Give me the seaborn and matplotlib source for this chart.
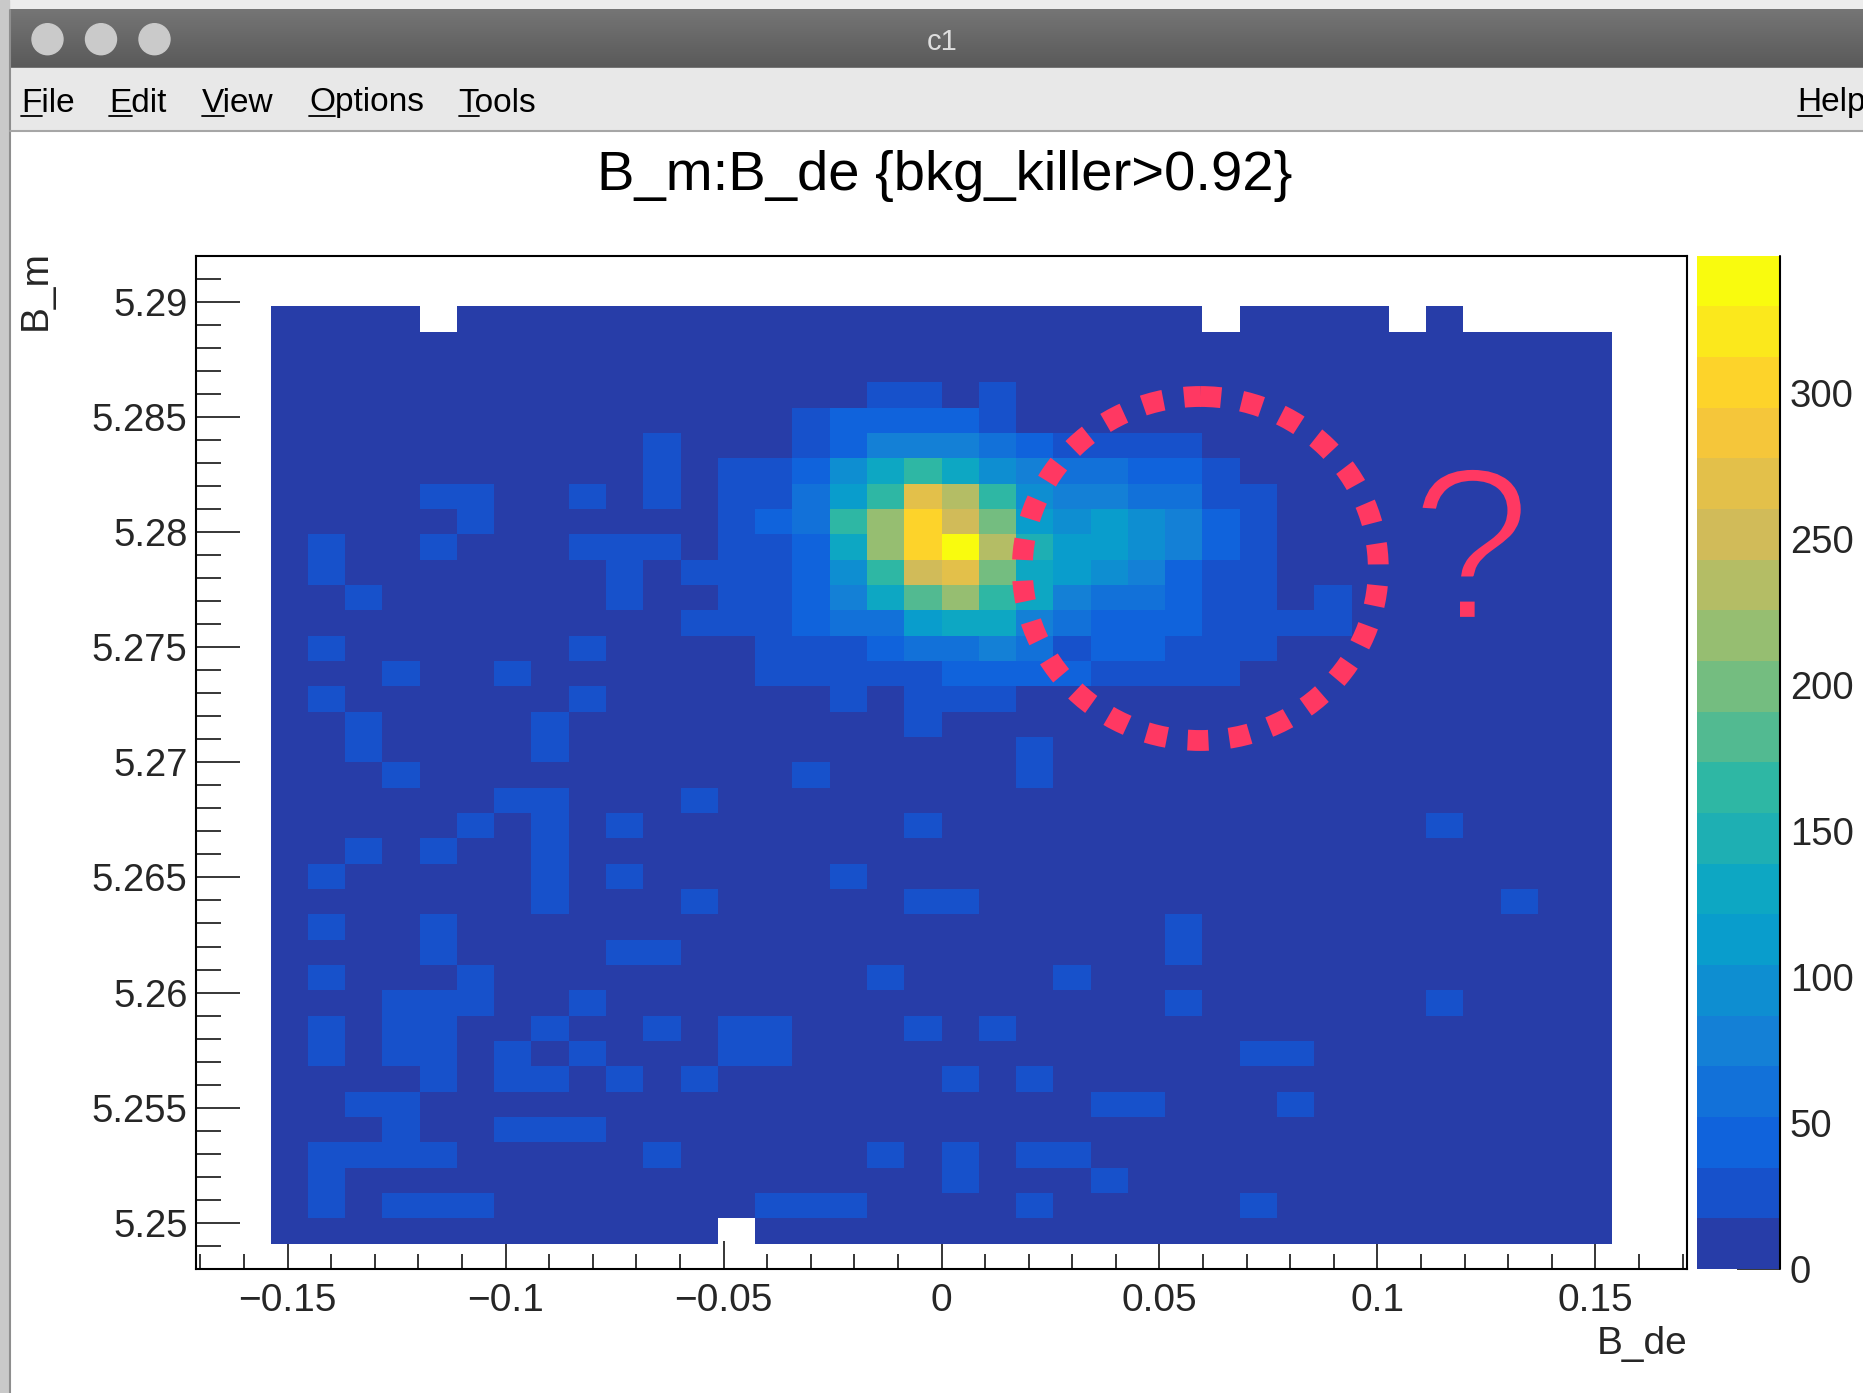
import numpy as np
import pandas as pd
import matplotlib
matplotlib.use("Agg")
import matplotlib.pyplot as plt
import matplotlib.patheffects as pe
from matplotlib.colors import LinearSegmentedColormap, ListedColormap
from matplotlib.patches import Rectangle, Circle, Ellipse
import seaborn as sns

# binning that ROOT picked for B_de (x) and B_m (y): 40 x 40 bins
x_lo, x_hi, n_xbins = -0.171, 0.171, 40
y_lo, y_hi, n_ybins = 5.248, 5.292, 40
first_col, first_row = 2, 2   # filled bins start 2 bins in from the left / top

# bin contents, one character per bin, top row = highest B_m
# ' ' empty bin, '1'..'9' and 'a'..'k' = colour band 1..20 of the palette
grid_rows = [
    "1111 11111111111111111111 1111 1    ",
    "111111111111111111111111111111111111",
    "111111111111111111111111111111111111",
    "1111111111111111" "2212" "1111111111111111",
    "11111111111111" "233332" "1111111111111111",
    "1111111111" "2111" "2355543" "2222" "11111111111",
    "1111111111" "2122368a86544332" "1111111111",
    "1111" "221121212247agea6554422" "111111111",
    "11111" "2" "111111" "234adifc767653" "2" "111111111",
    "1" "2" "11" "2" "111" "222" "1" "2238dike9776532" "111111111",
    "1" "2" "1111111" "2" "1" "22236afgc8765322" "111111111",
    "11" "2" "111111" "2" "11" "22358bda8544322" "1" "2" "1111111",
    "11111111111" "222344788543332222" "1111111",
    "1" "2" "111111" "2" "1111" "22234454233222" "111111111",
    "111" "2" "11" "2" "111111" "22222" "3333" "2222" "1111111111",
    "1" "2" "111111" "2" "111111" "2" "1" "222" "1111111111111111",
    "11" "2" "1111" "2" "111111111" "2" "111111111111111111",
    "11" "2" "1111" "2" "111111111111" "2" "111111111111111",
    "111" "2" "1111111111" "2" "11111" "2" "111111111111111",
    "111111" "22" "111" "2" "111111111111111111111111",
    "11111" "2" "1" "2" "1" "2" "1111111" "2" "1111111111111" "2" "1111",
    "11" "2" "1" "2" "11" "2" "1111111111111111111111111111",
    "1" "2" "11111" "2" "1" "2" "11111" "2" "11111111111111111111",
    "1111111" "2" "111" "2" "11111" "22" "11111111111111" "2" "11",
    "1" "2" "11" "2" "1111111111111111111" "2" "11111111111",
    "1111" "2" "1111" "22" "1111111111111" "2" "11111111111",
    "1" "2" "111" "2" "1111111111" "2" "1111" "2" "11111111111111",
    "111" "222" "11" "2" "111111111111111" "2" "111111" "2" "1111",
    "1" "2" "1" "22" "11" "2" "11" "2" "1" "22" "111" "2" "1" "2" "1111111111111111",
    "1" "2" "1" "22" "1" "2" "1" "2" "111" "22" "111111111111" "22" "11111111",
    "1111" "2" "1" "22" "1" "2" "1" "2" "111111" "2" "1" "2" "111111111111111",
    "11" "22" "111111111111111111" "22" "111" "2" "11111111",
    "111" "2" "11" "222" "111111111111111111111111111",
    "1" "2222" "11111" "2" "11111" "2" "1" "2" "1" "22" "11111111111111",
    "1" "2" "1111111111111111" "2" "111" "2" "1111111111111",
    "1" "2" "1" "222" "1111111" "222" "1111" "2" "11111" "2" "111111111",
    "111111111111" " " "11111111111111111111111",
]

# count taken for each colour band (20 equal bands from 0 up to the peak, 347)
band_counts = {" ": 0, "1": 8, "2": 26, "3": 43, "4": 61, "5": 78, "6": 95,
               "7": 113, "8": 130, "9": 147, "a": 165, "b": 182, "c": 200,
               "d": 217, "e": 234, "f": 252, "g": 269, "h": 286, "i": 304,
               "j": 321, "k": 347}
z_max = 347

x_major = [-0.15, -0.1, -0.05, 0.0, 0.05, 0.1, 0.15]
x_labels = ["\u22120.15", "\u22120.1", "\u22120.05", "0", "0.05", "0.1", "0.15"]
y_major = [5.25, 5.255, 5.26, 5.265, 5.27, 5.275, 5.28, 5.285, 5.29]
y_labels = ["5.25", "5.255", "5.26", "5.265", "5.27", "5.275", "5.28", "5.285", "5.29"]
z_ticks = [0, 50, 100, 150, 200, 250, 300]
menu_items = ["File", "Edit", "View", "Options", "Tools"]

for r in grid_rows:
    assert len(r) == 36, r

counts = np.zeros((n_ybins, n_xbins))
for i, row in enumerate(grid_rows):
    for j, ch in enumerate(row):
        counts[first_row + i, first_col + j] = band_counts[ch]
df = pd.DataFrame(counts)

# ROOT kBird palette, 20 contour bands
bird_stops = [0.0, 0.125, 0.25, 0.375, 0.5, 0.625, 0.75, 0.875, 1.0]
bird_r = [0.2082, 0.0592, 0.0780, 0.0232, 0.1802, 0.5301, 0.8186, 0.9956, 0.9764]
bird_g = [0.1664, 0.3599, 0.5041, 0.6419, 0.7178, 0.7492, 0.7328, 0.7862, 0.9832]
bird_b = [0.5293, 0.8684, 0.8385, 0.7914, 0.6425, 0.4662, 0.3499, 0.1968, 0.0539]
bird = LinearSegmentedColormap.from_list(
    "bird", list(zip(bird_stops, zip(bird_r, bird_g, bird_b))), N=255)
cmap = ListedColormap([bird(int((j + 0.99) * 255 / 20)) for j in range(20)])

sns.set_style("white")
plt.rcParams["font.family"] = ["Liberation Sans", "DejaVu Sans"]

W, H = 1863, 1393
fig = plt.figure(figsize=(W / 100, H / 100), dpi=100)
fig.patch.set_facecolor("white")

ax_l, ax_r, ax_t, ax_b = 196, 1687, 255.5, 1269
ax = fig.add_axes([ax_l / W, 1 - ax_b / H, (ax_r - ax_l) / W, (ax_b - ax_t) / H])
cax = fig.add_axes([1697 / W, 1 - ax_b / H, (1780 - 1697) / W, (ax_b - ax_t) / H])

sns.heatmap(df, ax=ax, cbar_ax=cax, cmap=cmap, vmin=0, vmax=z_max,
            mask=(counts == 0), xticklabels=False, yticklabels=False)

# numeric axes on top of the bin index grid
dx = (x_hi - x_lo) / n_xbins
dy = (y_hi - y_lo) / n_ybins
to_x = lambda v: (np.asarray(v) - x_lo) / dx
to_y = lambda v: (y_hi - np.asarray(v)) / dy

ax.set_xticks(to_x(x_major))
ax.set_xticklabels(x_labels)
ax.set_xticks(to_x(np.round(np.arange(-0.17, 0.1705, 0.01), 3)), minor=True)
ax.set_yticks(to_y(y_major))
ax.set_yticklabels(y_labels, rotation=0)
ax.set_yticks(to_y(np.round(np.arange(5.249, 5.2921, 0.001), 4)), minor=True)
ax.tick_params(axis="x", which="major", direction="in", length=20, width=1.3,
               bottom=True, top=False, labelsize=28, pad=10)
ax.tick_params(axis="x", which="minor", direction="in", length=11, width=1.3,
               bottom=True, top=False)
ax.tick_params(axis="y", which="major", direction="in", length=32, width=1.3,
               left=True, right=False, labelsize=27.5, pad=6)
ax.tick_params(axis="y", which="minor", direction="in", length=18, width=1.3,
               left=True, right=False)
for s in ax.spines.values():
    s.set_visible(True)
    s.set_color("black")
    s.set_linewidth(1.5)

cbar = ax.collections[0].colorbar
cbar.outline.set_visible(False)
cbar.set_ticks(z_ticks)
cbar.set_ticklabels([str(t) for t in z_ticks])
cbar.minorticks_off()
cax.tick_params(axis="y", direction="in", length=31, width=1.3, labelsize=27.5,
                pad=7, right=True, left=False)
cax.plot([1, 1], [0, 1], transform=cax.transAxes, color="black", lw=1.5,
         clip_on=False)

# overlay in pixel units: window chrome, titles, annotation
ov = fig.add_axes([0, 0, 1, 1], zorder=10)
ov.set_facecolor("none")
ov.axis("off")

ov.add_patch(Rectangle((0, 0), W, 10, color="#ededed", zorder=0))
ov.add_patch(Rectangle((0, 0), 9, H, color="#c9c9c9", zorder=0))
ov.plot([10, 10], [9.5, H], color="#8e8e8e", lw=1.5)
grad = np.linspace(0.46, 0.35, 64).reshape(-1, 1)
ov.imshow(np.dstack([grad, grad, grad]), extent=(10, W, 67.7, 9.5),
          aspect="auto", interpolation="bilinear", zorder=1)
for cx in [47.5, 101, 154.5]:
    ov.add_patch(Circle((cx, 39.2), 15.5, color="#cacaca", zorder=2))
ov.text(942, 41.6, "c1", ha="center", va="center", fontsize=21, color="#dedede",
        zorder=3)

ov.add_patch(Rectangle((10, 67.7), W, 62.5, color="#e8e8e8", zorder=1))
ov.plot([10, W], [130.5, 130.5], color="#a6a6a6", lw=1.5, zorder=2)
menu_x = [21.4, 109.3, 202, 309, 458.6]
first_w = [20.4, 22.2, 22.2, 25.9, 20.4]
for name, mx, fw in zip(menu_items, menu_x, first_w):
    ov.text(mx, 103, name, ha="left", va="center", fontsize=24, color="black",
            zorder=3)
    ov.plot([mx, mx + fw], [116, 116], color="black", lw=1.3, zorder=3)
ov.text(1797.6, 103, "Help", ha="left", va="center", fontsize=24,
        color="black", zorder=3)
ov.plot([1797.6, 1821.6], [116, 116], color="black", lw=1.3, zorder=3)

ov.text(944.6, 176, "B_m:B_de {bkg_killer>0.92}", ha="center", va="center",
        fontsize=40.5, color="black")
ov.text(35.6, ax_t - 5, "B_m", rotation=90, ha="center", va="top", fontsize=28)
ov.text(ax_r, 1343.5, "B_de", ha="right", va="center", fontsize=28)

red = "#ff3862"
ov.add_patch(Ellipse((1200.3, 568.5), 356, 344, fill=False, ec=red, lw=15,
                     linestyle=(0, (1.0, 1.0)), zorder=5))
# hand-drawn looking "?" : a lighter stroke than the regular glyph, so the
# glyph edge is trimmed with the colour of the bins underneath
q = ov.text(1471, 620, "?", ha="center", va="baseline", fontsize=158, color=red,
            family=["Liberation Sans", "DejaVu Sans"], zorder=5)
q.set_path_effects([pe.Normal(),
                    pe.Stroke(linewidth=4.5, foreground=cmap(0), joinstyle="miter")])

ov.set_xlim(0, W)
ov.set_ylim(H, 0)

fig.savefig("out.png", dpi=100)
